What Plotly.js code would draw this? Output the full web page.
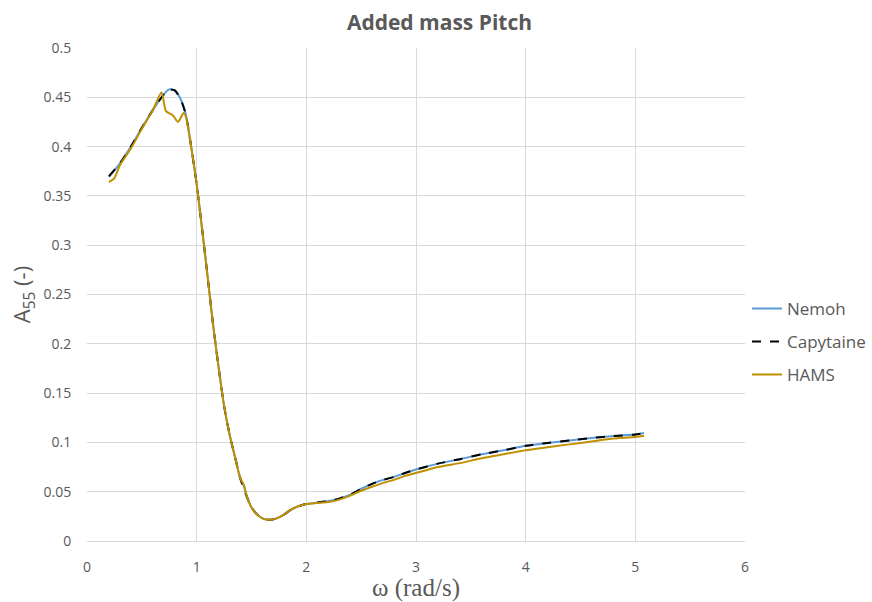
<!DOCTYPE html>
<html>
<head>
<meta charset="utf-8">
<script src="https://cdn.plot.ly/plotly-3.0.1.min.js"></script>
<style>html,body{margin:0;padding:0;background:#fff;}#chart{width:872px;height:602px;}</style>
</head>
<body>
<div id="chart"></div>
<script>
const omegaN = [0.2,0.3,0.4,0.5,0.6,0.7,0.75,0.8,0.85,0.9,0.95,1.0,1.05,1.1,1.15,1.2,1.25,1.3,1.35,1.4,1.43,1.45,1.5,1.55,1.6,1.65,1.7,1.75,1.8,1.85,1.9,1.95,2.0,2.1,2.2,2.3,2.4,2.5,2.6,2.7,2.8,2.9,3.0,3.2,3.4,3.6,3.8,4.0,4.2,4.4,4.6,4.8,5.0,5.08];
const nemoh = [0.369,0.383,0.400,0.419,0.437,0.453,0.458,0.457,0.449,0.433,0.400,0.362,0.316,0.268,0.219,0.176,0.137,0.108,0.085,0.062,0.056,0.048,0.034,0.027,0.023,0.0215,0.022,0.024,0.027,0.031,0.034,0.036,0.0375,0.039,0.0405,0.043,0.047,0.053,0.058,0.062,0.065,0.069,0.0725,0.0785,0.083,0.088,0.092,0.0965,0.0995,0.102,0.1045,0.1065,0.108,0.1095];
const capytaine = [0.370,0.383,0.400,0.419,0.437,0.453,0.458,0.457,0.449,0.433,0.400,0.362,0.316,0.268,0.219,0.176,0.137,0.108,0.085,0.063,0.053,0.047,0.034,0.027,0.023,0.0215,0.022,0.024,0.027,0.031,0.034,0.036,0.0375,0.039,0.0405,0.043,0.047,0.053,0.058,0.062,0.065,0.069,0.0725,0.0785,0.083,0.088,0.092,0.0965,0.0995,0.102,0.1045,0.1065,0.108,0.1095];
const omegaH = [0.2,0.25,0.3,0.4,0.5,0.6,0.68,0.72,0.78,0.83,0.88,0.9,0.95,1.0,1.05,1.1,1.15,1.2,1.25,1.3,1.35,1.4,1.43,1.45,1.5,1.55,1.6,1.65,1.7,1.75,1.8,1.85,1.9,1.95,2.0,2.1,2.2,2.3,2.4,2.5,2.6,2.7,2.8,2.9,3.0,3.2,3.4,3.6,3.8,4.0,4.2,4.4,4.6,4.8,5.0,5.08];
const hams = [0.364,0.368,0.381,0.398,0.418,0.437,0.455,0.436,0.432,0.425,0.434,0.431,0.400,0.362,0.316,0.268,0.219,0.176,0.137,0.108,0.085,0.063,0.057,0.048,0.034,0.027,0.023,0.0215,0.022,0.024,0.027,0.031,0.034,0.036,0.0375,0.0385,0.0395,0.042,0.046,0.051,0.055,0.059,0.062,0.066,0.069,0.075,0.079,0.084,0.088,0.092,0.095,0.098,0.101,0.104,0.1055,0.1068];

const gray = '#595959';
const traces = [
  {x: omegaN, y: nemoh, name: 'Nemoh', mode: 'lines', line: {color: '#5B9BD5', width: 2, shape: 'spline', smoothing: 0.6}, legendgroup: 'a'},
  {x: omegaN, y: capytaine, name: 'Capytaine', mode: 'lines', line: {color: '#000000', width: 2, dash: 'dash', shape: 'spline', smoothing: 0.6}, legendgroup: 'b'},
  {x: omegaH, y: hams, name: 'HAMS', mode: 'lines', line: {color: '#BF9000', width: 2, shape: 'spline', smoothing: 0.6}, legendgroup: 'c'}
];
const layout = {
  width: 872, height: 602,
  margin: {l: 87, r: 127, t: 48, b: 61, autoexpand: false},
  paper_bgcolor: '#ffffff', plot_bgcolor: '#ffffff',
  font: {family: 'Open Sans, sans-serif', color: gray, size: 14},
  title: {text: '<b>Added mass Pitch</b>', x: 0.504, xanchor: 'center', y: 0.963, yanchor: 'middle', font: {size: 21, color: gray, family: 'Open Sans, sans-serif'}},
  xaxis: {
    range: [0, 6], dtick: 1, tick0: 0, showgrid: true, gridcolor: '#d9d9d9', zeroline: false,
    showline: true, linecolor: '#d9d9d9', ticks: 'outside', ticklen: 13, tickcolor: 'rgba(0,0,0,0)',
    tickfont: {size: 14, color: gray},
    title: {text: 'ω (rad/s)', font: {family: 'Liberation Serif, serif', size: 25, color: gray}, standoff: 6}
  },
  yaxis: {
    range: [0, 0.5], dtick: 0.05, tick0: 0, showgrid: true, gridcolor: '#d9d9d9', zeroline: false,
    showline: false, ticks: 'outside', ticklen: 12, tickcolor: 'rgba(0,0,0,0)',
    tickfont: {size: 14, color: gray},
    title: {text: 'A<sub>55</sub> (-)', font: {size: 22, color: gray}, standoff: 6}
  },
  legend: {x: 1.003, xanchor: 'left', y: 0.404, yanchor: 'middle', font: {size: 17, color: gray}, traceorder: 'grouped', tracegroupgap: 8, itemwidth: 30, bgcolor: 'rgba(0,0,0,0)'},
  showlegend: true
};
Plotly.newPlot('chart', traces, layout, {displayModeBar: false, staticPlot: true});
</script>
</body>
</html>
